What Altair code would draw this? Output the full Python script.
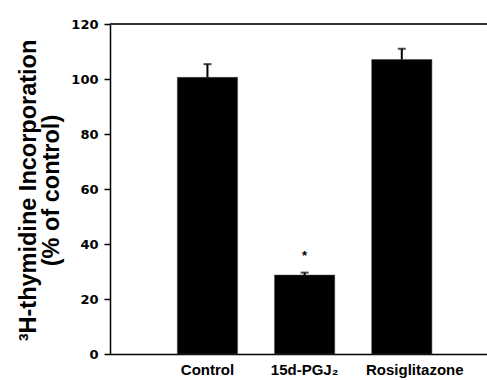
import altair as alt
import pandas as pd

categories = ["Control", "15d-PGJ₂", "Rosiglitazone"]
means = [100.6, 28.7, 107.1]
errors = [4.8, 0.9, 3.9]
star_labels = ["", "*", ""]
star_y = [0, 35.5, 0]

df = pd.DataFrame({
    "cat": categories,
    "mean": means,
    "upper": [m + e for m, e in zip(means, errors)],
    "star": star_labels,
    "star_y": star_y,
})

FONT = "Liberation Sans"
TICKFONT = "DejaVu Sans"
NB = "\u00a0"

xscale = alt.Scale(domain=categories, paddingInner=0.38, paddingOuter=0.63, align=0.55)
yscale = alt.Scale(domain=[0, 120])

x = alt.X("cat:N", scale=xscale, sort=categories,
          axis=alt.Axis(title=None, labelAngle=0, ticks=False, labelPadding=8,
                        labelFont=FONT, labelFontSize=15, labelFontWeight="bold",
                        labelColor="black", domainColor="black", domainWidth=1.5,
                        labelOffset={"condition": {"test": "datum.value == 'Rosiglitazone'", "value": 13},
                                     "value": 0}))

y_axis = alt.Axis(values=[0, 20, 40, 60, 80, 100, 120], grid=False, tickSize=6,
                  tickColor="black", tickWidth=1.5, domainColor="black", domainWidth=1.5,
                  labelFont=TICKFONT, labelFontSize=13, labelFontWeight="bold", labelColor="black",
                  labelPadding=6,
                  title=["³H-thymidine Incorporation", "(% of control)" + NB * 6],
                  titleFont=FONT, titleFontSize=23.5, titleFontWeight="bold", titleColor="black",
                  titleLineHeight=23, titleAngle=270, titleBaseline="alphabetic",
                  titleAlign="center", titleX=-75, titleY=166)

bars = alt.Chart(df).mark_bar(color="black", stroke="#444", strokeWidth=0.5).encode(
    x=x, y=alt.Y("mean:Q", scale=yscale, axis=y_axis))

err = alt.Chart(df).mark_rule(color="black", strokeWidth=2).encode(
    x=alt.X("cat:N", scale=xscale, sort=categories), y="mean:Q", y2="upper:Q")

cap = alt.Chart(df).mark_tick(color="black", size=8, thickness=2).encode(
    x=alt.X("cat:N", scale=xscale, sort=categories), y="upper:Q")

star = alt.Chart(df).mark_text(font=FONT, fontSize=13, fontWeight="bold", color="black",
                               baseline="middle").encode(
    x=alt.X("cat:N", scale=xscale, sort=categories), y="star_y:Q", text="star:N")

top = alt.Chart(df).mark_rule(color="#333", strokeWidth=2).encode(y=alt.datum(120))

chart = alt.layer(bars, err, cap, star, top).properties(
    width=377, height=330,
    autosize=alt.AutoSizeParams(type="none"),
    padding={"left": 110, "top": 24, "right": 0, "bottom": 26},
).configure_view(stroke=None)

chart.save("out.html", embed_options={"renderer": "svg", "actions": False})
